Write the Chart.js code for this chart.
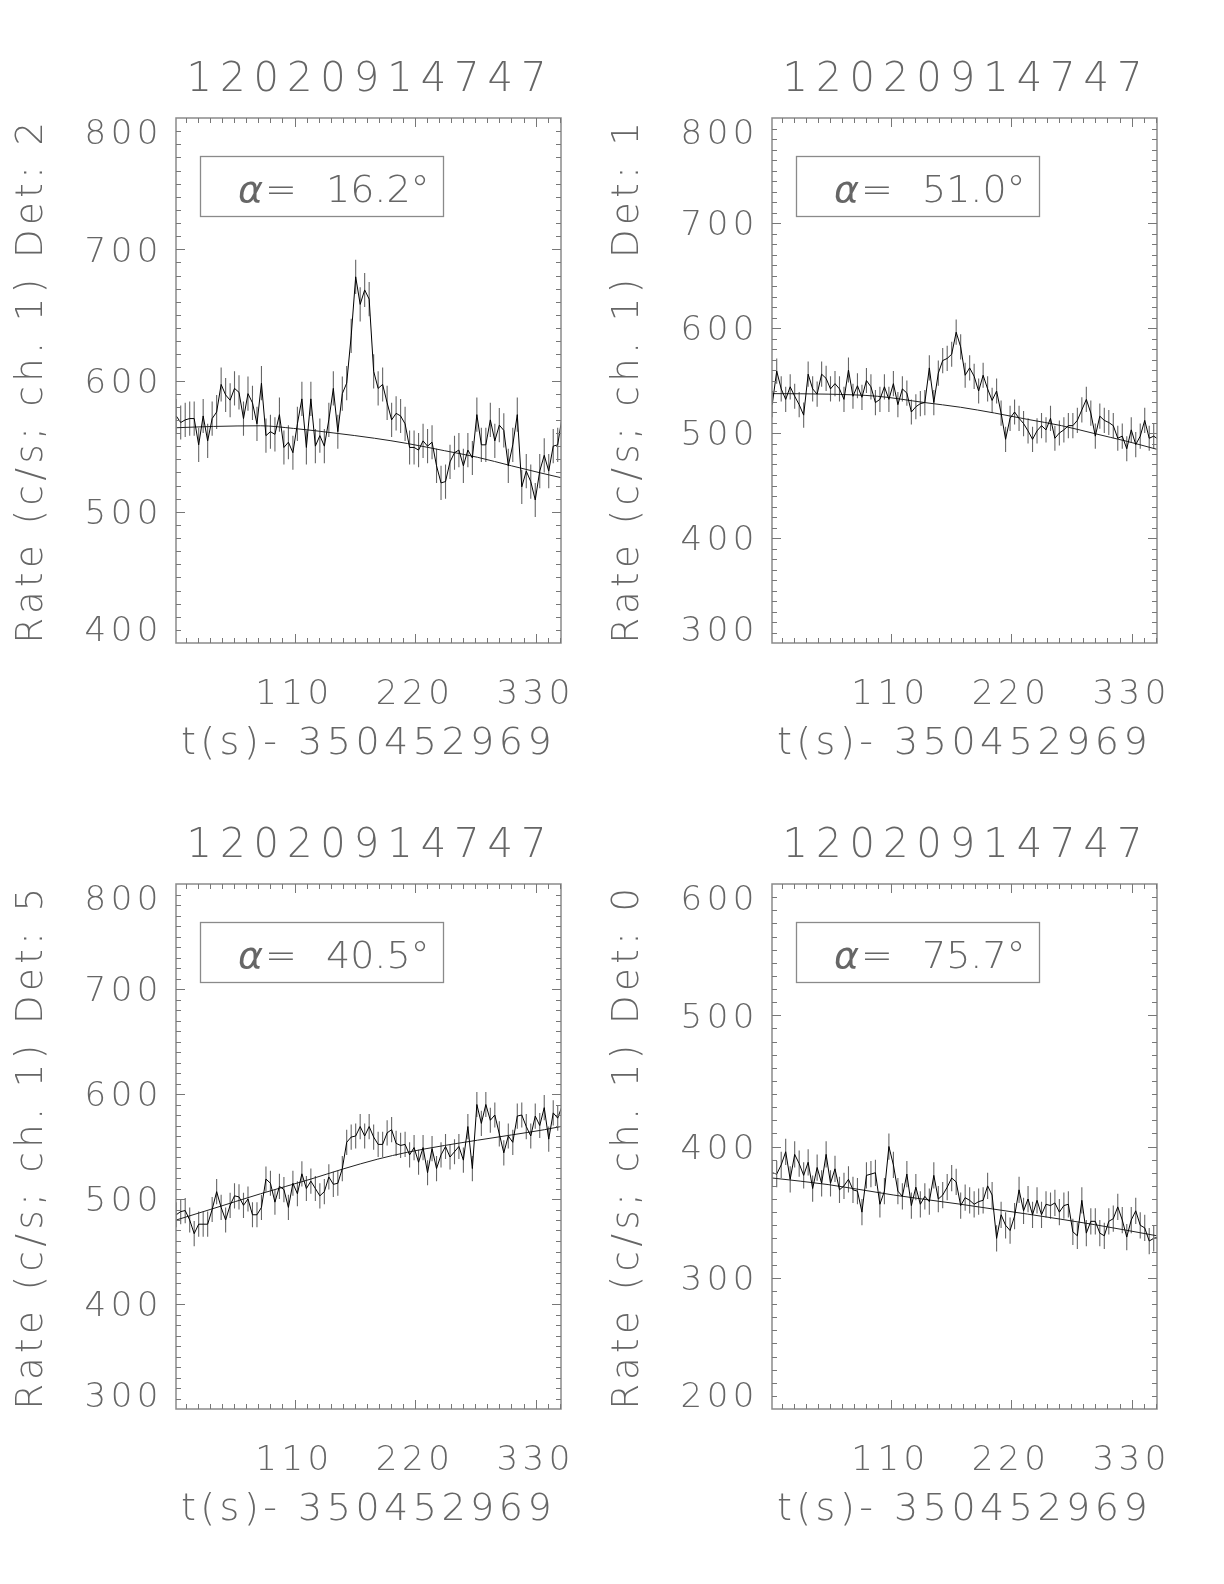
<!DOCTYPE html>
<html><head><meta charset="utf-8">
<script src="https://cdn.jsdelivr.net/npm/chart.js@4.4.1/dist/chart.umd.min.js"></script>
<style>
html,body{margin:0;padding:0;background:#fff;}
#wrap{position:relative;width:1224px;height:1584px;background:#fff;overflow:hidden;}
canvas{position:absolute;}
</style></head><body><div id="wrap">
<canvas id="c0" width="596" height="766" style="left:0px;top:0px;width:596px;height:766px"></canvas>
<canvas id="c1" width="596" height="766" style="left:596px;top:0px;width:596px;height:766px"></canvas>
<canvas id="c2" width="596" height="766" style="left:0px;top:766px;width:596px;height:766px"></canvas>
<canvas id="c3" width="596" height="766" style="left:596px;top:766px;width:596px;height:766px"></canvas>
</div>
<script>
// ---------------- data ----------------
const TITLE = '12020914747';
const X_LABEL = 't(s)- 350452969';
const X_TICKS = [110, 220, 330];
const X_RANGE = [1.8, 353.2];
const DETS = [2, 1, 5, 0];
const ALPHAS = ['16.2', '51.0', '40.5', '75.7'];

const T = [2.0,6.1,10.2,14.3,18.4,22.5,26.6,30.7,34.8,38.9,
  43.0,47.1,51.2,55.2,59.3,63.4,67.5,71.6,75.7,79.8,
  83.9,88.0,92.1,96.2,100.3,104.4,108.5,112.6,116.7,120.8,
  124.9,129.0,133.1,137.2,141.3,145.4,149.5,153.6,157.6,161.7,
  165.8,169.9,174.0,178.1,182.2,186.3,190.4,194.5,198.6,202.7,
  206.8,210.9,215.0,219.1,223.2,227.3,231.4,235.5,239.6,243.7,
  247.8,251.9,256.0,260.0,264.1,268.2,272.3,276.4,280.5,284.6,
  288.7,292.8,296.9,301.0,305.1,309.2,313.3,317.4,321.5,325.6,
  329.7,333.8,337.9,342.0,346.1,350.2,354.3];

const Y_TICKS_DET2 = [400, 500, 600, 700, 800];
const Y_TICKS_DET1 = [300, 400, 500, 600, 700, 800];
const Y_TICKS_DET5 = [300, 400, 500, 600, 700, 800];
const Y_TICKS_DET0 = [200, 300, 400, 500, 600];

const RATE_DET2 = [573,568,570,571,571,551,573,554,571,576,
  597,589,585,594,591,571,590,583,567,598,
  558,561,559,574,549,553,545,567,586,549,
  586,550,558,550,570,594,561,590,598,634,
  679,658,669,662,607,594,597,583,570,575,
  573,567,549,549,547,554,550,553,535,522,
  523,538,545,547,535,547,541,574,551,551,
  570,554,566,562,535,551,574,519,531,523,
  509,531,543,531,550,551,573];
const RATE_DET1 = [527,559,542,532,544,535,527,517,556,542,
  537,556,552,542,547,542,532,560,535,545,
  534,550,544,529,532,544,532,547,527,542,
  538,520,525,528,529,562,529,557,569,571,
  575,596,582,555,562,554,540,555,542,531,
  540,519,494,514,520,514,509,502,494,502,
  507,503,514,495,500,503,507,507,512,522,
  532,519,497,516,512,510,507,495,497,485,
  503,489,497,512,495,497,494];
const RATE_DET5 = [485,488,489,480,467,476,476,476,490,507,
  492,480,494,503,502,494,500,485,485,492,
  519,515,497,512,509,492,515,505,524,510,
  517,510,503,507,521,514,515,529,554,559,
  560,569,560,569,559,552,552,563,566,553,
  551,552,542,549,535,549,525,548,529,542,
  550,540,545,550,537,569,529,590,572,590,
  575,580,562,544,560,554,579,580,569,560,
  579,570,587,557,582,577,589];
const RATE_DET0 = [380,379,386,396,375,394,387,378,388,368,
  384,372,394,372,383,367,370,375,367,366,
  350,378,379,380,356,366,400,386,366,362,
  379,355,369,356,362,358,378,360,363,369,
  376,373,355,361,359,356,358,359,370,363,
  330,348,340,336,347,367,351,360,348,359,
  348,356,355,357,350,355,356,335,332,359,
  334,343,343,334,332,343,345,354,344,331,
  344,351,340,338,328,330,331];

// typical 1-sigma error-bar half length per panel (c/s)
const ERR = [13, 12, 12, 10];

// background fit curve read at a few points
const FIT_T_DET2 = [2, 36, 79, 109, 146, 183, 213, 247, 277, 308, 335, 353];
const FIT_V_DET2 = [564, 565, 565.5, 563.5, 560, 556, 552, 546.5, 541.5, 535, 529.5, 526];
const FIT_T_DET1 = [2, 53, 98, 141, 174, 205, 235, 266, 296, 326, 353];
const FIT_V_DET1 = [537.5, 537, 535, 529, 524.5, 519, 513, 507, 499.5, 492, 484.5];
const FIT_T_DET5 = [2, 33, 79, 125, 154, 186, 213, 247, 277, 308, 338, 353];
const FIT_V_DET5 = [480, 490, 505, 519, 528.5, 538, 544.5, 551, 556, 561, 566, 569];
const FIT_T_DET0 = [2, 53, 113, 174, 235, 296, 353];
const FIT_V_DET0 = [376, 371, 363, 356, 348.5, 340.5, 332];

// ---------------- drawing ----------------
const FONT = "'DejaVu Sans', 'Liberation Sans', sans-serif";
const TEXT_COLOR = '#666';
const FRAME_COLOR = '#8a8a8a';

const panels = [
  {rate: RATE_DET2, yt: Y_TICKS_DET2, ft: FIT_T_DET2, fv: FIT_V_DET2},
  {rate: RATE_DET1, yt: Y_TICKS_DET1, ft: FIT_T_DET1, fv: FIT_V_DET1},
  {rate: RATE_DET5, yt: Y_TICKS_DET5, ft: FIT_T_DET5, fv: FIT_V_DET5},
  {rate: RATE_DET0, yt: Y_TICKS_DET0, ft: FIT_T_DET0, fv: FIT_V_DET0}
];

function panelPlugin(idx) {
  const p = panels[idx];
  return {
    id: 'panel' + idx,
    beforeDraw(chart) { chart.ctx.letterSpacing = '4.5px'; },
    beforeDatasetsDraw(chart) {
      const {ctx, chartArea: a, scales: {x, y}} = chart;
      ctx.save();
      ctx.letterSpacing = '0px';
      ctx.beginPath(); ctx.rect(a.left, a.top, a.right - a.left, a.bottom - a.top); ctx.clip();
      ctx.strokeStyle = '#666'; ctx.lineWidth = 1.1;
      ctx.beginPath();
      T.forEach((t, i) => {
        const px = x.getPixelForValue(t);
        const v = p.rate[i];
        ctx.moveTo(px, y.getPixelForValue(v - ERR[idx]));
        ctx.lineTo(px, y.getPixelForValue(v + ERR[idx]));
      });
      ctx.stroke();
      ctx.restore();
    },
    afterDraw(chart) {
      const {ctx, chartArea: a, scales: {x, y}} = chart;
      ctx.save();
      ctx.letterSpacing = '0px';
      // frame
      ctx.strokeStyle = FRAME_COLOR; ctx.lineWidth = 1.5;
      ctx.strokeRect(a.left, a.top, a.right - a.left, a.bottom - a.top);
      // inward ticks on all sides
      ctx.strokeStyle = '#777'; ctx.lineWidth = 1;
      ctx.beginPath();
      const xStep = (X_TICKS[1] - X_TICKS[0]) / 10;
      for (let k = 1; k * xStep <= x.max; k++) {
        const v = k * xStep;
        if (v < x.min) continue;
        const px = Math.round(x.getPixelForValue(v)) + 0.5;
        const len = (k % 10 === 0) ? 9 : 5;
        ctx.moveTo(px, a.bottom); ctx.lineTo(px, a.bottom - len);
        ctx.moveTo(px, a.top); ctx.lineTo(px, a.top + len);
      }
      const yMajor = p.yt[1] - p.yt[0];
      const yStep = yMajor / 10;
      for (let k = 1; y.min + k * yStep < y.max - 0.01; k++) {
        const v = y.min + k * yStep;
        const py = Math.round(y.getPixelForValue(v)) + 0.5;
        const len = (k % 10 === 0) ? 9 : 5;
        ctx.moveTo(a.left, py); ctx.lineTo(a.left + len, py);
        ctx.moveTo(a.right, py); ctx.lineTo(a.right - len, py);
      }
      ctx.stroke();
      // title
      ctx.fillStyle = TEXT_COLOR;
      ctx.font = `200 40px ${FONT}`;
      ctx.letterSpacing = '8px';
      ctx.textAlign = 'center'; ctx.textBaseline = 'alphabetic';
      ctx.fillText(TITLE, (a.left + a.right) / 2 + 2, a.top - 27);
      // alpha box
      ctx.letterSpacing = '1px';
      ctx.strokeStyle = FRAME_COLOR; ctx.lineWidth = 1.3;
      ctx.strokeRect(a.left + 24.5, a.top + 38.5, 243, 60);
      ctx.textAlign = 'left';
      ctx.font = `italic 200 38px ${FONT}`;
      ctx.fillText('\u03b1', a.left + 62, a.top + 84);
      ctx.font = `200 38px ${FONT}`;
      ctx.fillText('=', a.left + 89, a.top + 84);
      ctx.letterSpacing = '0px';
      ctx.fillText(ALPHAS[idx] + '\u00b0', a.left + 150, a.top + 84);
      ctx.restore();
    }
  };
}

function yTickLabel(v, i, ticks) {
  const s = String(v);
  if (i === 0) return [s, '', '', ''];
  if (i === ticks.length - 1) return ['', '', '', '', '', s];
  return ['', s];
}

panels.forEach((p, idx) => {
  const ctx = document.getElementById('c' + idx);
  new Chart(ctx, {
    type: 'line',
    data: {
      datasets: [
        {
          data: T.map((t, i) => ({x: t, y: p.rate[i]})),
          borderColor: '#000', borderWidth: 1, pointRadius: 0, tension: 0, fill: false, clip: 0
        },
        {
          data: p.ft.map((t, i) => ({x: t, y: p.fv[i]})),
          borderColor: '#222', borderWidth: 1, pointRadius: 0, cubicInterpolationMode: 'monotone', fill: false, clip: 0
        }
      ]
    },
    options: {
      responsive: false, animation: false, devicePixelRatio: 1,
      layout: {padding: {left: 0, top: 118, right: 35, bottom: 0}},
      plugins: {legend: {display: false}, tooltip: {enabled: false}, title: {display: false}},
      scales: {
        x: {
          type: 'linear', position: 'bottom', min: X_RANGE[0], max: X_RANGE[1],
          afterBuildTicks: (s) => { s.ticks = X_TICKS.map(v => ({value: v})); },
          afterFit: (s) => { s.height = 123; },
          grid: {display: false, drawTicks: false}, border: {display: false},
          ticks: {padding: 0, color: TEXT_COLOR, maxRotation: 0, autoSkip: false,
                  font: {family: FONT, size: 34, weight: '200', lineHeight: 3.05},
                  callback: (v) => String(v)},
          title: {display: true, text: X_LABEL, color: TEXT_COLOR, padding: {top: 0, bottom: 3},
                  font: {family: FONT, size: 38, weight: '200', lineHeight: 1}}
        },
        y: {
          type: 'linear', position: 'left', min: p.yt[0], max: p.yt[p.yt.length - 1],
          afterBuildTicks: (s) => { s.ticks = p.yt.map(v => ({value: v})); },
          afterFit: (s) => { s.width = 176; },
          grid: {display: false, drawTicks: false}, border: {display: false},
          ticks: {padding: 13, color: TEXT_COLOR, autoSkip: false,
                  font: {family: FONT, size: 34, weight: '200', lineHeight: 7 / 34},
                  callback: yTickLabel},
          title: {display: true, text: 'Rate (c/s; ch. 1) Det: ' + DETS[idx], color: TEXT_COLOR,
                  padding: {top: 13.5, bottom: 0},
                  font: {family: FONT, size: 37, weight: '200', lineHeight: 1}}
        }
      }
    },
    plugins: [panelPlugin(idx)]
  });
});
</script>
</body></html>
